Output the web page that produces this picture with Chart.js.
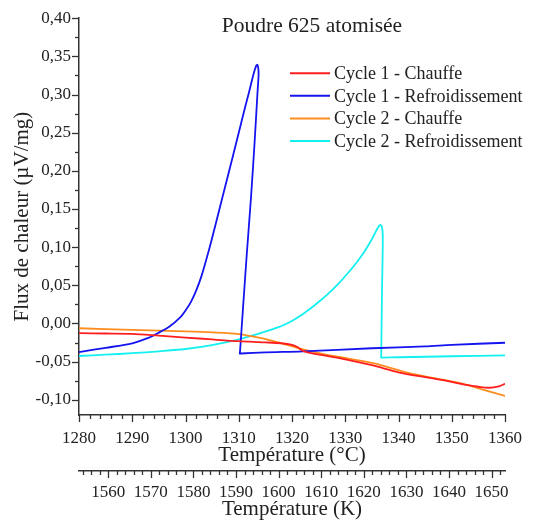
<!DOCTYPE html>
<html>
<head>
<meta charset="utf-8">
<script src="https://cdn.jsdelivr.net/npm/chart.js@4.4.0/dist/chart.umd.min.js"></script>
<style>
  html, body { margin: 0; padding: 0; background: #fff; }
</style>
</head>
<body>
<canvas id="chart" width="535" height="522"></canvas>
<script>
var chartTitle = "Poudre 625 atomisée";
var seriesLabels = ["Cycle 1 - Chauffe", "Cycle 1 - Refroidissement", "Cycle 2 - Chauffe", "Cycle 2 - Refroidissement"];
var seriesColors = ["#ff1e1e", "#1414f0", "#ff8c1e", "#14f0f0"];

// cycle 1, chauffe
var c1HeatT = [1280, 1285, 1290, 1295, 1300, 1305, 1310, 1315, 1318, 1320, 1321, 1322.2, 1324, 1326, 1330, 1335, 1340, 1345, 1350, 1353, 1355, 1357, 1359, 1360];
var c1HeatV = [-0.0128, -0.0132, -0.0137, -0.016, -0.0185, -0.021, -0.0233, -0.0248, -0.026, -0.028, -0.031, -0.0365, -0.0395, -0.042, -0.047, -0.0548, -0.064, -0.0705, -0.0765, -0.081, -0.083, -0.0843, -0.082, -0.079];

// cycle 1, refroidissement (read from 1360 back to 1280)
var c1CoolT = [1360, 1350, 1345, 1335, 1322, 1315, 1310.4, 1310.2, 1310.25, 1310.8, 1311.5, 1312.3, 1313.0, 1313.5, 1313.72, 1313.68, 1313.5, 1313.3, 1313.0, 1312.6, 1312.0, 1311.0, 1309.0, 1307.0, 1305.0, 1304.0, 1303.0, 1302.0, 1301.0, 1300.0, 1299.0, 1297.0, 1295.0, 1293.0, 1290.0, 1285.0, 1280.0];
var c1CoolV = [-0.0253, -0.028, -0.030, -0.0325, -0.0366, -0.038, -0.0394, -0.0396, -0.036, 0.02, 0.09, 0.165, 0.24, 0.30, 0.325, 0.334, 0.339, 0.338, 0.332, 0.322, 0.305, 0.278, 0.222, 0.167, 0.112, 0.086, 0.062, 0.043, 0.028, 0.017, 0.008, -0.004, -0.012, -0.019, -0.026, -0.032, -0.0375];

// cycle 2, chauffe
var c2HeatT = [1280, 1290, 1300, 1305, 1310, 1314, 1318, 1321, 1323, 1328, 1335, 1342, 1347, 1352, 1356, 1360];
var c2HeatV = [-0.0063, -0.0085, -0.0105, -0.0118, -0.014, -0.019, -0.026, -0.032, -0.0355, -0.043, -0.0518, -0.065, -0.072, -0.079, -0.087, -0.095];

// cycle 2, refroidissement
var c2CoolT = [1360, 1350, 1340, 1336.9, 1336.75, 1336.76, 1336.9, 1337.05, 1336.95, 1336.6, 1336.1, 1335.2, 1333.5, 1331, 1328, 1325, 1322, 1319, 1316, 1313, 1310, 1305, 1300, 1295, 1290, 1285, 1280];
var c2CoolV = [-0.0418, -0.043, -0.0443, -0.0447, -0.0448, -0.040, 0.04, 0.11, 0.124, 0.129, 0.125, 0.113, 0.093, 0.070, 0.047, 0.028, 0.012, -0.0005, -0.0085, -0.015, -0.021, -0.0285, -0.0335, -0.0365, -0.039, -0.041, -0.0427];

var celsiusTicks = [1280, 1290, 1300, 1310, 1320, 1330, 1340, 1350, 1360];
var kelvinTicks = [1560, 1570, 1580, 1590, 1600, 1610, 1620, 1630, 1640, 1650];
var fluxTicks = [-0.10, -0.05, 0.00, 0.05, 0.10, 0.15, 0.20, 0.25, 0.30, 0.35, 0.40];

var fontFamily = "'Liberation Serif', 'DejaVu Serif', serif";
var textColor = "#222";
var axisColor = "#333";

function toPoints(xs, ys) {
    return xs.map((x, i) => ({ x: x, y: ys[i] }));
}

var allSeries = [
    toPoints(c1HeatT, c1HeatV),
    toPoints(c1CoolT, c1CoolV),
    toPoints(c2HeatT, c2HeatV),
    toPoints(c2CoolT, c2CoolV)
];

// minor + major tick marks on the three axes
const tickMarks = {
    id: "tickMarks",
    afterDraw(chart) {
        const ctx = chart.ctx;
        const defs = [
            { id: "x", major: celsiusTicks, step: 2 },
            { id: "xK", major: kelvinTicks, step: 2 },
            { id: "y", major: fluxTicks, step: 0.025 }
        ];
        ctx.save();
        ctx.strokeStyle = axisColor;
        ctx.lineWidth = 1.3;
        defs.forEach(d => {
            const s = chart.scales[d.id];
            const k0 = Math.ceil(s.min / d.step - 1e-6);
            for (let k = k0; k * d.step <= s.max + 1e-6; k++) {
                const v = k * d.step;
                const isMajor = d.major.some(m => Math.abs(m - v) < 1e-6);
                const len = isMajor ? 7 : 4;
                const p = Math.round(s.getPixelForValue(v)) + 0.5;
                ctx.beginPath();
                if (d.id === "y") {
                    ctx.moveTo(s.right, p);
                    ctx.lineTo(s.right - len, p);
                } else {
                    ctx.moveTo(p, s.top);
                    ctx.lineTo(p, s.top + len);
                }
                ctx.stroke();
            }
        });
        ctx.restore();
    }
};

// title + legend drawn inside the plot area
const innerText = {
    id: "innerText",
    afterDraw(chart) {
        const ctx = chart.ctx;
        const area = chart.chartArea;
        ctx.save();
        ctx.fillStyle = textColor;
        ctx.textAlign = "center";
        ctx.textBaseline = "alphabetic";
        ctx.font = "21.5px " + fontFamily;
        ctx.fillText(chartTitle, area.left + 233, area.top + 13.5);

        ctx.font = "18px " + fontFamily;
        ctx.textAlign = "left";
        chart.data.datasets.forEach((ds, i) => {
            const y = area.top + 55 + i * 22.6;
            ctx.strokeStyle = ds.borderColor;
            ctx.lineWidth = 2;
            ctx.beginPath();
            ctx.moveTo(area.left + 211, y);
            ctx.lineTo(area.left + 251, y);
            ctx.stroke();
            ctx.fillText(ds.label, area.left + 255, y + 6);
        });
        ctx.restore();
    }
};

const ctx = document.getElementById("chart");

new Chart(ctx, {
    type: "line",
    data: {
        datasets: allSeries.map((pts, i) => ({
            label: seriesLabels[i],
            data: pts,
            borderColor: seriesColors[i],
            backgroundColor: seriesColors[i],
            borderWidth: 1.8,
            pointRadius: 0,
            tension: 0.3,
            fill: false
        }))
    },
    options: {
        responsive: false,
        animation: false,
        layout: { padding: { top: 16, right: 18, left: 0, bottom: 0 } },
        plugins: {
            legend: { display: false },
            title: { display: false },
            tooltip: { enabled: false }
        },
        scales: {
            x: {
                type: "linear",
                position: "bottom",
                weight: 0,
                min: 1280,
                max: 1360,
                afterBuildTicks: s => { s.ticks = celsiusTicks.map(v => ({ value: v })); },
                afterFit: s => { s.height = 56; },
                grid: { display: false, drawTicks: false },
                border: { display: true, color: axisColor, width: 1.5 },
                ticks: {
                    padding: 13,
                    maxRotation: 0,
                    autoSkip: false,
                    color: textColor,
                    font: { family: fontFamily, size: 17 },
                    callback: v => String(v)
                },
                title: {
                    display: true,
                    text: "Température (°C)",
                    color: textColor,
                    font: { family: fontFamily, size: 21 },
                    padding: { top: 0, bottom: 3 }
                }
            },
            xK: {
                type: "linear",
                position: "bottom",
                weight: 1,
                min: 1553.15,
                max: 1653.15,
                afterBuildTicks: s => { s.ticks = kelvinTicks.map(v => ({ value: v })); },
                afterFit: s => { s.height = 51; },
                grid: { display: false, drawTicks: false },
                border: { display: true, color: axisColor, width: 1.5 },
                ticks: {
                    padding: 11,
                    maxRotation: 0,
                    autoSkip: false,
                    color: textColor,
                    font: { family: fontFamily, size: 17 },
                    callback: v => String(v)
                },
                title: {
                    display: true,
                    text: "Température (K)",
                    color: textColor,
                    font: { family: fontFamily, size: 21 },
                    padding: { top: 0, bottom: 0 }
                }
            },
            y: {
                type: "linear",
                position: "left",
                min: -0.12,
                max: 0.40,
                afterBuildTicks: s => { s.ticks = fluxTicks.map(v => ({ value: v })); },
                afterFit: s => { s.width = 79; },
                grid: { display: false, drawTicks: false },
                border: { display: true, color: axisColor, width: 1.5 },
                ticks: {
                    padding: 8,
                    color: textColor,
                    font: { family: fontFamily, size: 17 },
                    callback: v => v.toFixed(2).replace(".", ",")
                },
                title: {
                    display: true,
                    text: "Flux de chaleur (µV/mg)",
                    color: textColor,
                    font: { family: fontFamily, size: 21 },
                    padding: { top: 10, bottom: 0 }
                }
            }
        }
    },
    plugins: [tickMarks, innerText]
});
</script>
</body>
</html>
